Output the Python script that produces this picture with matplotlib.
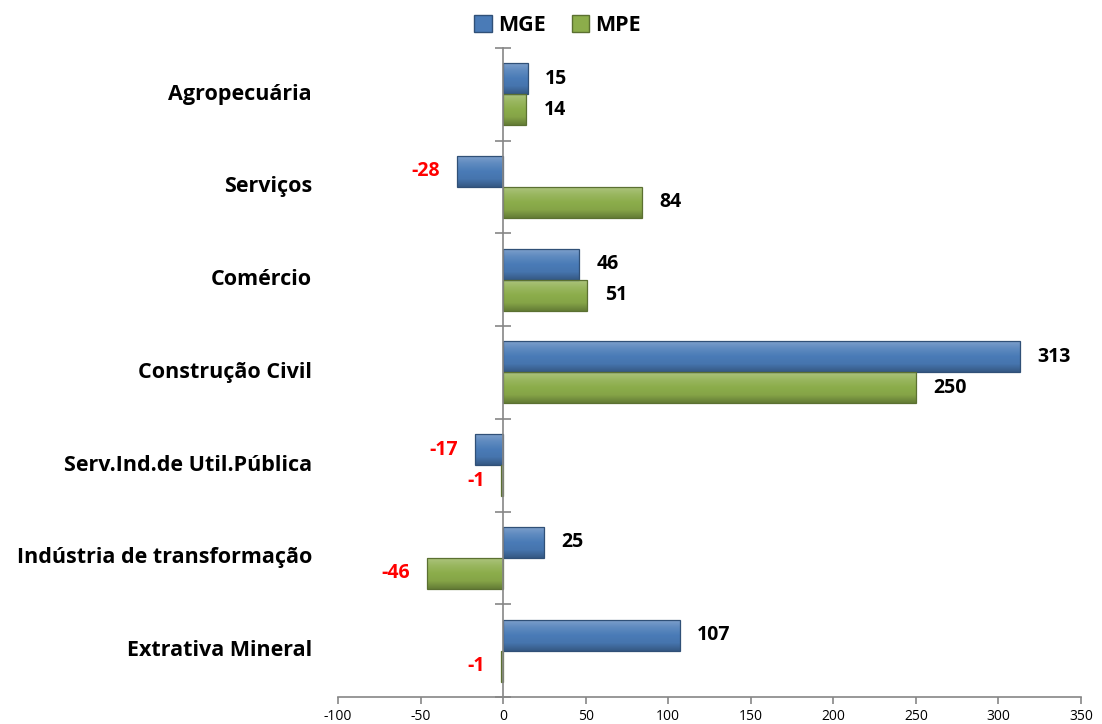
import matplotlib.pyplot as plt
import matplotlib.colors as mcolors
from matplotlib.patches import Patch
import numpy as np

plt.rcParams['font.family'] = ['Open Sans', 'DejaVu Sans']

categories = ["Agropecuária", "Serviços", "Comércio", "Construção Civil",
              "Serv.Ind.de Util.Pública", "Indústria de transformação",
              "Extrativa Mineral"]
mge = [15, -28, 46, 313, -17, 25, 107]
mpe = [14, 84, 51, 250, -1, -46, -1]
series_names = ["MGE", "MPE"]
x_ticks = [-100, -50, 0, 50, 100, 150, 200, 250, 300, 350]

blue = "#4a7bb7"
green = "#8cad4b"
gray = "#868686"


def shade(c, f):
    r, g, b = mcolors.to_rgb(c)
    if f > 1:
        return tuple(x + (1 - x) * (f - 1) for x in (r, g, b))
    return (r * f, g * f, b * f)


def bevel_bars(ax, bars, color):
    # vertical gradient clipped to each bar to mimic the excel bevel
    cmap = mcolors.LinearSegmentedColormap.from_list(
        "b", [shade(color, 0.72), shade(color, 0.95), shade(color, 1.0),
              shade(color, 1.12), shade(color, 1.3)])
    grad = np.linspace(0, 1, 64).reshape(-1, 1)
    for b in bars:
        x0, y0 = b.get_x(), b.get_y()
        w, h = b.get_width(), b.get_height()
        if w == 0:
            continue
        im = ax.imshow(grad, cmap=cmap, aspect="auto", origin="lower",
                       extent=(x0, x0 + w, y0, y0 + h), zorder=3)
        im.set_clip_path(b)
        b.set_facecolor("none")


fig = plt.figure(figsize=(11.02, 7.24), dpi=100)
ax = fig.add_axes([0.3067, 0.0373, 0.981 - 0.3067, 0.934 - 0.0373])

n = len(categories)
ypos = np.arange(n)[::-1].astype(float)
h = 0.335

b1 = ax.barh(ypos + h / 2, mge, height=h, color=blue,
             edgecolor=shade(blue, 0.65), linewidth=0.9, zorder=4)
b2 = ax.barh(ypos - h / 2, mpe, height=h, color=green,
             edgecolor=shade(green, 0.65), linewidth=0.9, zorder=4)
bevel_bars(ax, b1, blue)
bevel_bars(ax, b2, green)

ax.set_xlim(-100, 350)
ax.set_ylim(-0.5, n - 0.5)

# value labels
for vals, offs in ((mge, h / 2), (mpe, -h / 2)):
    for y, v in zip(ypos, vals):
        if v >= 0:
            ax.annotate(str(v), (v, y + offs), xytext=(12.5, 0),
                        textcoords="offset points", ha="left", va="center",
                        fontsize=14, fontweight="bold", color="black")
        else:
            ax.annotate(str(v), (v, y + offs), xytext=(-12, 0),
                        textcoords="offset points", ha="right", va="center",
                        fontsize=14, fontweight="bold", color="#ff0000")

# category labels on the far left
for y, c in zip(ypos, categories):
    ax.text(-0.035, y, c, transform=ax.get_yaxis_transform(), ha="right",
            va="center", fontsize=15.5, fontweight="bold")

ax.spines["top"].set_visible(False)
ax.spines["right"].set_visible(False)
ax.spines["left"].set_position(("data", 0))
ax.spines["left"].set_color(gray)
ax.spines["bottom"].set_color(gray)
ax.spines["left"].set_zorder(5)
ax.spines["left"].set_linewidth(1.2)
ax.spines["bottom"].set_linewidth(1.2)

ax.set_yticks(np.arange(-0.5, n, 1.0))
ax.set_yticklabels([])
ax.tick_params(axis="y", direction="inout", length=12, width=1.2, color=gray)
ax.set_xticks(x_ticks)
ax.set_xticklabels([str(t) for t in x_ticks])
ax.tick_params(axis="x", direction="out", length=5, width=1.2, color=gray,
               pad=4, labelsize=10)

handles = [Patch(facecolor=blue, edgecolor=shade(blue, 0.65)),
           Patch(facecolor=green, edgecolor=shade(green, 0.65))]
fig.legend(handles, series_names, loc="center", bbox_to_anchor=(0.506, 0.965),
           ncol=2, frameon=False, handlelength=0.8, handleheight=0.8,
           handletextpad=0.3, columnspacing=1.2,
           prop={"size": 15.5, "weight": "bold"})

fig.savefig("out.png", dpi=100)
